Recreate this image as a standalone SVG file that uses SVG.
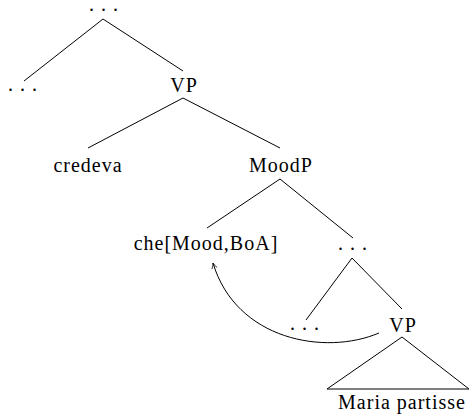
<svg xmlns="http://www.w3.org/2000/svg" width="469" height="415" viewBox="0 0 469 415">
  <defs>
    <style>
      .lbl { font-family: "Liberation Serif", "DejaVu Serif", serif; font-size: 20px; letter-spacing: 1px; fill: #000; text-anchor: middle; }
      .edge { stroke: #000; stroke-width: 1; fill: none; }
    </style>
    <marker id="arr" viewBox="0 0 10 10" refX="9" refY="5" markerWidth="7" markerHeight="7" orient="auto-start-reverse" markerUnits="userSpaceOnUse">
      <path d="M1,1 Q5,4 9,5 Q5,6 1,9" fill="none" stroke="#000" stroke-width="1"/>
    </marker>
  </defs>
  <rect width="469" height="415" fill="#fff"/>

  <g id="connectors">
    <line class="edge" x1="103" y1="19" x2="24" y2="81"/>
    <line class="edge" x1="103" y1="19" x2="183" y2="71"/>
    <line class="edge" x1="183" y1="98" x2="88" y2="148"/>
    <line class="edge" x1="183" y1="98" x2="280" y2="148"/>
    <line class="edge" x1="280" y1="179" x2="207" y2="228"/>
    <line class="edge" x1="280" y1="179" x2="353" y2="238"/>
    <line class="edge" x1="352" y1="258" x2="306" y2="320"/>
    <line class="edge" x1="352" y1="258" x2="402" y2="309"/>
    <polygon class="edge" points="402,337 327,389 469,389"/>
    <path class="edge" d="M379,333 C325,356 236,340 213,263" marker-end="url(#arr)"/>
  </g>

  <g id="root"><text class="lbl" x="104" y="11">. . .</text></g>
  <g id="left-dots"><text class="lbl" x="23" y="91">. . .</text></g>
  <g id="vp"><text class="lbl" x="184" y="92">VP</text></g>
  <g id="credeva"><text class="lbl" x="88" y="172">credeva</text></g>
  <g id="moodp"><text class="lbl" x="281" y="172">MoodP</text></g>
  <g id="che"><text class="lbl" x="206" y="250">che[Mood,BoA]</text></g>
  <g id="right-dots"><text class="lbl" x="353" y="250">. . .</text></g>
  <g id="lower-dots"><text class="lbl" x="305" y="330">. . .</text></g>
  <g id="vp-lower"><text class="lbl" x="403" y="332">VP</text></g>
  <g id="maria"><text class="lbl" x="402" y="409">Maria partisse</text></g>
</svg>
